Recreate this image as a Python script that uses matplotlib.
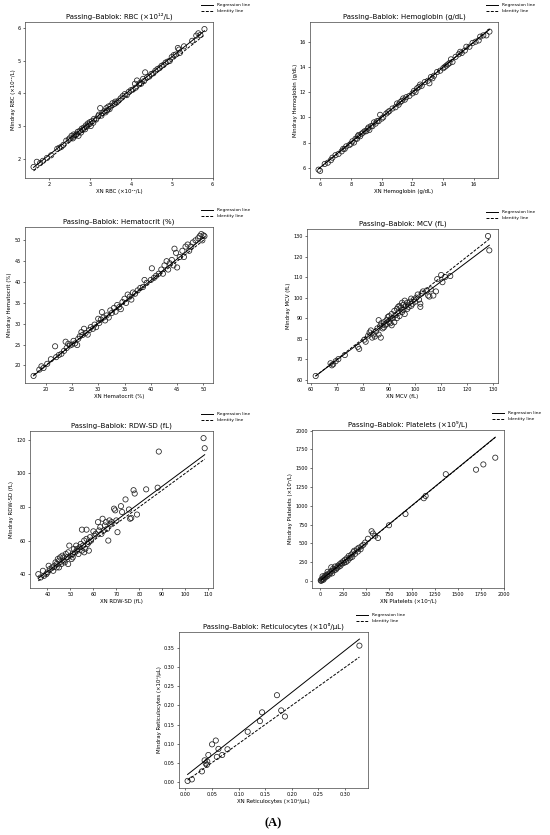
import matplotlib
matplotlib.use("Agg")
import matplotlib.pyplot as plt
import numpy as np

# ---------------- data ----------------
rbc_points = [(1.62,1.74),(1.70,1.90),(1.78,1.86),(1.85,1.93),(1.95,2.02),(2.05,2.10),(2.2,2.30),(2.25,2.33),
 (2.3,2.36),(2.35,2.42),(2.42,2.55),(2.48,2.58),(2.5,2.62),(2.55,2.70),(2.58,2.62),(2.6,2.74),(2.62,2.68),
 (2.65,2.72),(2.68,2.76),(2.7,2.82),(2.72,2.70),(2.75,2.85),(2.78,2.80),(2.8,2.92),(2.82,2.88),(2.85,2.95),
 (2.88,2.90),(2.9,3.02),(2.92,2.98),(2.95,3.08),(2.98,3.05),(3.0,3.12),(3.02,3.00),(3.05,3.15),(3.08,3.10),
 (3.1,3.22),(3.15,3.20),(3.2,3.30),(3.22,3.35),(3.25,3.55),(3.28,3.32),(3.3,3.40),(3.35,3.45),(3.38,3.42),
 (3.4,3.55),(3.42,3.48),(3.45,3.60),(3.48,3.52),(3.5,3.62),(3.55,3.70),(3.6,3.68),(3.62,3.75),(3.65,3.72),
 (3.7,3.78),(3.75,3.85),(3.8,3.92),(3.85,3.98),(3.9,3.95),(3.95,4.05),(4.0,4.10),(4.05,4.12),(4.1,4.30),
 (4.12,4.18),(4.15,4.40),(4.2,4.28),(4.22,4.32),(4.25,4.30),(4.3,4.45),(4.32,4.38),(4.35,4.65),(4.4,4.50),
 (4.45,4.52),(4.5,4.60),(4.55,4.62),(4.6,4.70),(4.65,4.75),(4.7,4.78),(4.75,4.85),(4.8,4.88),(4.85,4.95),
 (4.9,4.98),(4.95,5.00),(5.0,5.12),(5.05,5.18),(5.1,5.20),(5.15,5.40),(5.18,5.35),(5.2,5.25),(5.3,5.45),
 (5.5,5.62),(5.6,5.78),(5.65,5.85),(5.7,5.80),(5.8,5.98)]

hgb_points = [(5.9,5.85),(6.0,5.75),(6.3,6.3),(6.5,6.4),(6.7,6.6),(7.0,7.0),(7.2,7.1),(7.4,7.3),(7.6,7.5),
 (7.7,7.7),(7.9,7.8),(8.0,7.9),(8.1,8.1),(8.2,8.0),(8.3,8.3),(8.4,8.3),(8.5,8.6),(8.6,8.5),(8.7,8.7),
 (8.8,8.8),(8.9,8.9),(9.0,8.9),(9.1,9.1),(9.2,9.0),(9.3,9.3),(9.4,9.3),(9.5,9.6),(9.6,9.5),(9.7,9.7),
 (9.8,9.7),(9.9,10.2),(10.0,9.9),(10.1,10.0),(10.3,10.3),(10.5,10.5),(10.7,10.7),(10.9,10.8),(11.0,11.1),
 (11.1,11.0),(11.2,11.2),(11.3,11.3),(11.5,11.4),(11.6,11.6),(11.8,11.7),(12.0,11.9),(12.1,12.1),(12.2,12.0),
 (12.3,12.3),(12.4,12.4),(12.6,12.5),(12.8,12.8),(13.0,12.9),(13.1,12.7),(13.2,13.2),(13.4,13.3),(13.6,13.6),
 (13.8,13.7),(14.0,13.9),(14.1,14.0),(14.2,14.1),(14.4,14.3),(14.5,14.6),(14.6,14.4),(14.8,14.8),(15.0,15.0),
 (15.2,15.1),(15.4,15.3),(15.5,15.6),(15.7,15.6),(15.9,15.9),(16.1,16.0),(16.3,16.1),(16.4,16.4),(16.6,16.5),
 (16.8,16.5),(17.0,16.8),(8.45,8.5),(9.15,9.2),(10.4,10.4),(11.4,11.5),(12.5,12.6),(13.3,13.1),(14.3,14.2),
 (15.1,15.2),(7.5,7.5),(6.8,6.8)]

hct_points = [(17.7,17.5),(18.8,19.0),(19.2,19.8),(19.6,19.4),(20.3,20.4),(21.0,21.5),(21.8,24.6),(22.0,22.0),
 (22.5,22.5),(23.0,22.8),(23.5,23.5),(23.8,25.7),(24.0,24.2),(24.3,25.2),(24.6,24.8),(25.0,25.0),(25.3,25.9),
 (25.6,25.3),(26.0,24.9),(26.2,26.4),(26.5,27.0),(26.8,28.0),(27.0,27.3),(27.3,28.8),(27.6,27.8),(28.0,27.4),
 (28.3,28.5),(28.6,29.2),(29.0,28.8),(29.3,29.8),(29.6,29.2),(30.0,31.2),(30.2,30.2),(30.5,31.0),(30.7,32.8),
 (31.0,31.5),(31.3,30.8),(31.6,32.0),(32.0,31.5),(32.3,33.2),(32.6,32.6),(33.0,33.8),(33.3,32.9),(33.6,34.5),
 (34.0,34.0),(34.3,33.5),(34.6,35.2),(35.0,36.0),(35.3,35.0),(35.6,37.0),(36.0,36.5),(36.3,35.8),(36.6,37.5),
 (37.0,37.2),(37.5,38.0),(38.0,38.6),(38.5,38.8),(38.8,40.5),(39.2,39.8),(40.0,40.5),(40.2,43.3),(40.6,41.0),
 (41.0,41.5),(41.5,42.0),(42.0,43.0),(42.3,42.0),(42.6,44.0),(43.0,45.0),(43.3,43.0),(43.6,44.5),(44.0,45.3),
 (44.3,44.0),(44.5,48.0),(44.8,47.0),(45.0,43.5),(45.5,46.0),(46.0,47.5),(46.3,46.0),(46.6,48.5),(47.0,49.0),
 (47.3,47.5),(47.6,48.5),(48.0,49.5),(48.5,50.0),(49.0,50.5),(49.3,51.0),(49.6,51.5),(49.8,50.0),(50.0,51.2),
 (50.2,51.0)]

mcv_points = [(61.8,61.8),(67.5,68.0),(68.0,67.0),(68.5,67.5),(69.5,69.0),(70.5,70.0),(73.0,72.0),(78.0,76.0),
 (78.5,75.0),(80.5,79.5),(81.0,78.5),(82.0,81.5),(82.5,83.0),(83.0,84.0),(83.5,80.5),(84.0,82.0),(84.5,81.0),
 (85.0,83.5),(85.5,85.0),(86.0,89.0),(86.0,82.0),(86.5,86.0),(86.8,80.5),(87.0,87.5),(87.5,85.0),(88.0,88.0),
 (88.5,86.5),(89.0,89.0),(89.0,87.0),(89.5,90.5),(90.0,88.0),(90.0,91.0),(90.5,89.5),(91.0,86.5),(91.0,92.0),
 (91.5,90.0),(92.0,93.5),(92.0,88.0),(92.5,91.5),(93.0,94.5),(93.0,90.0),(93.5,92.5),(94.0,96.0),(94.0,91.0),
 (94.5,95.0),(95.0,93.0),(95.0,97.5),(95.5,94.0),(96.0,98.5),(96.0,92.0),(96.5,96.0),(97.0,97.5),(97.0,94.5),
 (97.5,95.5),(98.0,98.0),(98.5,96.0),(99.0,97.0),(99.5,99.0),(100.0,98.0),(100.5,100.0),(101.0,101.5),
 (101.5,99.0),(102.0,97.0),(102.0,95.5),(102.5,102.0),(103.0,103.0),(104.5,103.5),(105.0,101.0),(105.5,100.5),
 (106.0,104.0),(107.0,101.0),(108.0,103.0),(108.5,109.0),(110.0,111.0),(110.5,107.5),(111.5,110.0),
 (113.5,110.5),(128.0,130.0),(128.5,123.0),(88.0,85.5),(90.5,87.5),(93.5,95.5),(95.5,96.5),(98.5,99.5)]

rdw_points = [(36,40),(37,38),(38,42),(38.5,39),(39.5,40),(40,41),(40.5,45),(41,43),(42,44),(42.5,42),(43,45),
 (43.5,47),(44,46),(44.5,49),(45,44),(45,48),(45.5,50),(46,46),(46.5,51),(47,48),(47.5,47),(48,52),(48.5,50),
 (49,46),(49,53),(49.5,57),(50,51),(50.5,49),(51,52),(51.5,55),(52,53),(52.5,57),(53,55),(53.5,52),(54,56),
 (54.5,58),(55,66.5),(55,54),(55.5,57),(56,60),(56,53),(56.5,55),(57,66.5),(57,61),(57.5,58),(58,54),(58.5,62),
 (59,60),(60,65.5),(60.5,63),(61,64),(62,71),(62.5,66),(63,68),(63.5,64),(64,73),(64.5,66),(65,69),(65.5,71),
 (66,67),(66.5,60),(67,72),(67.5,70),(68,71),(69,79),(69.5,78),(70,72),(70.5,65),(72,80.5),(72.5,77),(74,84.5),
 (75.5,78.5),(76,73),(76.5,73.5),(77.5,90),(78,88),(79,75.5),(83,90.5),(88,91.5),(88.5,113),(108,121),(108.5,115),
 (44,44),(47,50),(51,50),(53,54),(58,59)]

plt_points = [(5,5),(10,0),(15,20),(20,10),(25,60),(30,30),(35,15),(40,45),(50,40),(55,70),(60,55),(70,80),(75,60),
 (80,120),(90,95),(100,85),(110,110),(120,180),(125,130),(130,100),(140,160),(150,140),(160,190),(170,150),
 (180,170),(190,200),(200,185),(210,220),(220,200),(230,240),(240,230),(250,260),(260,240),(270,280),(280,250),
 (290,300),(300,270),(310,330),(320,300),(330,310),(340,350),(350,320),(360,380),(370,400),(380,360),(400,420),
 (410,390),(420,440),(440,420),(450,460),(470,480),(490,510),(520,560),(560,660),(575,630),(600,600),(630,570),
 (750,740),(930,890),(1130,1100),(1150,1130),(1370,1420),(1700,1480),(1780,1550),(1910,1640)]

ret_points = [(0.004,0.002),(0.012,0.006),(0.031,0.027),(0.036,0.056),(0.038,0.048),(0.041,0.053),(0.043,0.070),
 (0.050,0.098),(0.057,0.108),(0.059,0.065),(0.062,0.086),(0.069,0.070),(0.079,0.085),(0.117,0.131),
 (0.140,0.159),(0.144,0.182),(0.172,0.227),(0.180,0.187),(0.187,0.171),(0.327,0.357),(0.040,0.044)]

# Passing-Bablok fits: (slope, intercept)
rbc_fit = (1.005, 0.10)
hgb_fit = (0.995, 0.05)
hct_fit = (1.025, -0.6)
mcv_fit = (0.955, 2.8)
rdw_fit = (1.015, 1.0)
plt_fit = (1.0, 3.0)
ret_fit = (1.10, 0.0145)

titles = ["Passing–Bablok: RBC (×10¹²/L)", "Passing–Bablok: Hemoglobin (g/dL)",
          "Passing–Bablok: Hematocrit (%)", "Passing–Bablok: MCV (fL)",
          "Passing–Bablok: RDW-SD (fL)", "Passing–Bablok: Platelets (×10⁹/L)",
          "Passing–Bablok: Reticulocytes (×10⁶/μL)"]
xlabels = ["XN RBC (×10¹²/L)", "XN Hemoglobin (g/dL)", "XN Hematocrit (%)", "XN MCV (fL)",
           "XN RDW-SD (fL)", "XN Platelets (×10⁹/L)", "XN Reticulocytes (×10⁶/μL)"]
ylabels = ["Mindray RBC (×10¹²/L)", "Mindray Hemoglobin (g/dL)", "Mindray Hematocrit (%)", "Mindray MCV (fL)",
           "Mindray RDW-SD (fL)", "Mindray Platelets (×10⁹/L)", "Mindray Reticulocytes (×10⁶/μL)"]

datasets = [rbc_points, hgb_points, hct_points, mcv_points, rdw_points, plt_points, ret_points]
fits = [rbc_fit, hgb_fit, hct_fit, mcv_fit, rdw_fit, plt_fit, ret_fit]

# ---------------- layout (pixel boxes: left, right, top, bottom) ----------------
W, H = 550, 835
boxes = [(25, 213, 22, 178), (310, 498, 22, 178),
         (25, 213, 227, 383), (307, 498, 229, 383),
         (30, 213, 431, 588), (312, 504, 430, 588),
         (179, 368, 632, 788)]

plt.rcParams['font.family'] = ['DejaVu Sans']
fig = plt.figure(figsize=(W / 100, H / 100), dpi=100)

for pts, fit, box, t, xl, yl in zip(datasets, fits, boxes, titles, xlabels, ylabels):
    l, r, tp, b = box
    ax = fig.add_axes([l / W, 1 - b / H, (r - l) / W, (b - tp) / H])
    x = np.array([p[0] for p in pts])
    y = np.array([p[1] for p in pts])
    ax.scatter(x, y, s=14, facecolors='none', edgecolors='#222222', linewidths=0.55, zorder=3)
    xs = np.array([x.min(), x.max()])
    slope, inter = fit
    ax.plot(xs, slope * xs + inter, color='black', lw=0.7, label='Regression line', zorder=4)
    ax.plot(xs, xs, color='black', lw=0.7, ls='--', dashes=(3, 1.5), label='Identity line', zorder=4)
    ax.set_title(t, fontsize=5.0, pad=2.5)
    ax.set_xlabel(xl, fontsize=3.9, labelpad=1.5)
    ax.set_ylabel(yl, fontsize=3.9, labelpad=1.5)
    ax.tick_params(labelsize=3.5, length=1.5, width=0.4, pad=1.5)
    for s in ax.spines.values():
        s.set_linewidth(0.5)
        s.set_color('#444444')
    # legend placed outside at upper right
    lx = (r - 12) / W
    ly = 1 - (tp - 19) / H
    fig.legend(*ax.get_legend_handles_labels(), loc='upper left', bbox_to_anchor=(lx, ly),
               frameon=False, fontsize=3.2, handlelength=2.8, borderpad=0, borderaxespad=0,
               labelspacing=0.5, handletextpad=0.8)

fig.text(273 / W, 1 - 823 / H, "(A)", ha='center', va='center', fontsize=9,
         fontweight='bold', family='Liberation Serif')

fig.savefig("out.png", dpi=100)
